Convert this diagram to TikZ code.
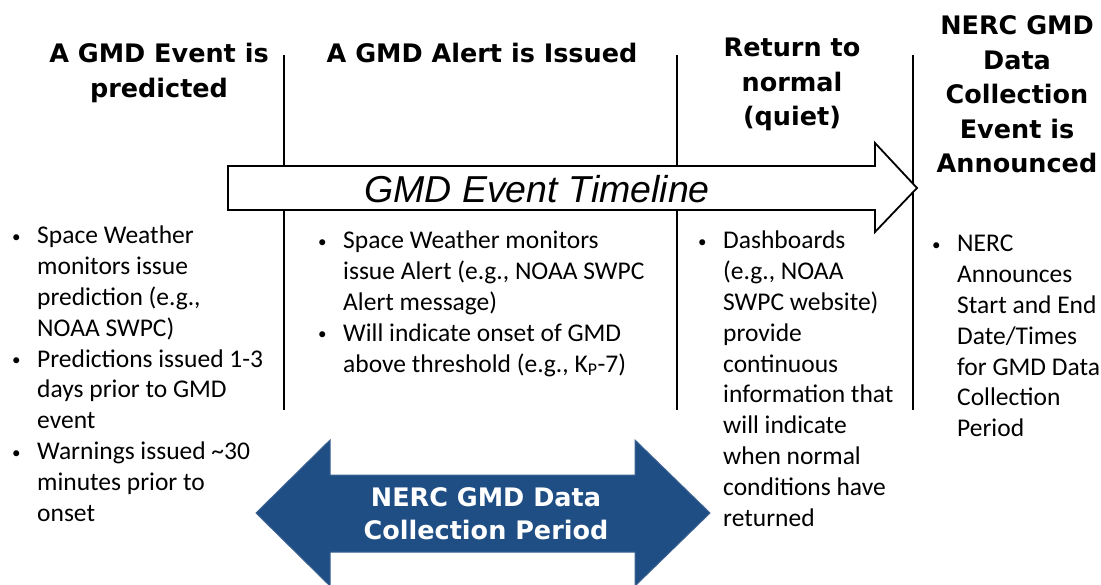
\documentclass[tikz,border=0pt]{standalone}
\usepackage{fontspec}
\setmainfont{Carlito}
\newfontfamily\headfont{DejaVu Sans}
\newfontfamily\linefont{Liberation Sans}
\definecolor{gmdblue}{RGB}{31,78,132}
\definecolor{gmdedge}{RGB}{60,98,145}
\tikzstyle{head}=[inner sep=0pt,anchor=base,font=\headfont\bfseries\fontsize{25.5}{34.5}\selectfont]
\tikzstyle{bullets}=[inner sep=0pt,anchor=base west,font=\fontsize{25.5}{30.8}\selectfont]
\tikzstyle{divider}=[line width=1.6pt]
\tikzstyle{timeline}=[line width=1.8pt,draw=black,fill=white]
\tikzstyle{period}=[line width=1pt,draw=gmdedge,fill=gmdblue]
\newcommand{\blt}{\makebox[25pt][l]{\raisebox{1.5pt}{\fontsize{17}{17}\selectfont\textbullet}}}

\begin{document}
\begin{tikzpicture}[x=1pt,y=-1pt]
	\useasboundingbox (0,0) rectangle (1101,585);
	\coordinate (A) at (284,55);
	\coordinate (B) at (284,410);
	\coordinate (C) at (677,55);
	\coordinate (D) at (677,410);
	\coordinate (E) at (913,55);
	\coordinate (F) at (913,410);
	\draw[divider] (A)--(B);
	\draw[divider] (C)--(D);
	\draw[divider] (E)--(F);

	% timeline arrow
	\draw[timeline] (228,166)--(875,166)--(875,143)--(917,188)--(875,232)--(875,210)--(228,210)--cycle;
	\node[inner sep=0pt,font=\linefont\itshape\fontsize{37.5}{40}\selectfont] (timeline) at (537,189) {GMD Event Timeline};

	% data collection period
	\draw[period] (256,513)--(330,440)--(330,475)--(635,475)--(635,440)--(710,513)--(635,586)--(635,552)--(330,552)--(330,586)--cycle;
	\node[head,anchor=center,text=white,align=center,font=\headfont\bfseries\fontsize{25.5}{33}\selectfont] (period) at (486,514) {NERC GMD Data\\Collection Period};

	\node[head] (predicted) at (159,63) {\begin{tabular}[t]{@{}c@{}}A GMD Event is\\predicted\end{tabular}};
	\node[head] (alert) at (482,63) {A GMD Alert is Issued};
	\node[head] (quiet) at (792,57) {\begin{tabular}[t]{@{}c@{}}Return to\\normal\\(quiet)\end{tabular}};
	\node[head] (announced) at (1017,35) {\begin{tabular}[t]{@{}c@{}}NERC GMD\\Data\\Collection\\Event is\\Announced\end{tabular}};

	\node[bullets] (predict) at (12,244) {\begin{tabular}[t]{@{}l@{}l@{}}
		\blt & Space Weather\\
		& monitors issue\\
		& prediction (e.g.,\\
		& NOAA SWPC)\\
		\blt & Predictions issued 1-3\\
		& days prior to GMD\\
		& event\\
		\blt & Warnings issued \textasciitilde30\\
		& minutes prior to\\
		& onset
	\end{tabular}};
	\node[bullets] (issue) at (318,249) {\begin{tabular}[t]{@{}l@{}l@{}}
		\blt & Space Weather monitors\\
		& issue Alert (e.g., NOAA SWPC\\
		& Alert message)\\
		\blt & Will indicate onset of GMD\\
		& above threshold (e.g., K\textsubscript{P}-7)
	\end{tabular}};
	\node[bullets] (dashboard) at (698,249) {\begin{tabular}[t]{@{}l@{}l@{}}
		\blt & Dashboards\\
		& (e.g., NOAA\\
		& SWPC website)\\
		& provide\\
		& continuous\\
		& information that\\
		& will indicate\\
		& when normal\\
		& conditions have\\
		& returned
	\end{tabular}};
	\node[bullets] (nerc) at (932,252) {\begin{tabular}[t]{@{}l@{}l@{}}
		\blt & NERC\\
		& Announces\\
		& Start and End\\
		& Date/Times\\
		& for GMD Data\\
		& Collection\\
		& Period
	\end{tabular}};
\end{tikzpicture}
\end{document}
